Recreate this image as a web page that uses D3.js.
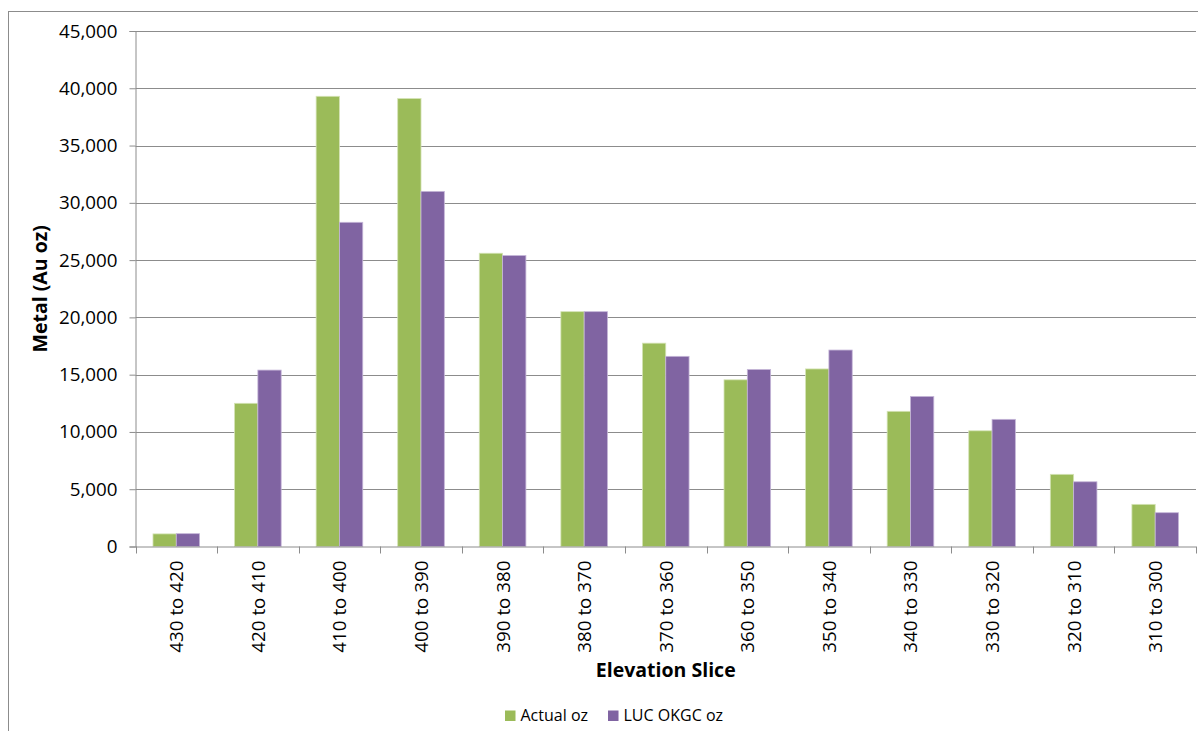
<!DOCTYPE html>
<html>
<head>
<meta charset="utf-8">
<script src="https://cdn.jsdelivr.net/npm/d3@7/dist/d3.min.js"></script>
<style>
  html, body { margin: 0; padding: 0; background: #fff; }
  svg { display: block; font-family: "Open Sans", "Noto Sans", sans-serif; }
</style>
</head>
<body>
<svg id="chart" width="1198" height="731"></svg>
<script>
// Elevation slices (top to bottom of the pit)
const categories = ["430 to 420", "420 to 410", "410 to 400", "400 to 390", "390 to 380",
  "380 to 370", "370 to 360", "360 to 350", "350 to 340", "340 to 330",
  "330 to 320", "320 to 310", "310 to 300"];
// Contained metal per slice, ounces
const actualOz = [1100, 12500, 39300, 39100, 25600, 20500, 17750, 14550, 15500, 11800, 10100, 6300, 3680];
const lucOkgcOz = [1120, 15400, 28300, 31000, 25400, 20500, 16600, 15450, 17150, 13100, 11100, 5650, 2950];
const seriesNames = ["Actual oz", "LUC OKGC oz"];
const seriesColors = ["#9BBB59", "#8064A2"];
const seriesStrokes = ["#d4e3b5", "#c5b6d8"];
const yTicks = [0, 5000, 10000, 15000, 20000, 25000, 30000, 35000, 40000, 45000];

const series = [actualOz, lucOkgcOz];
const svg = d3.select("#chart");
const margin = { left: 135.5, right: 1196, top: 31, bottom: 546.5 };

// Chart-area frame
svg.append("rect")
  .attr("x", 8.5).attr("y", 11.5)
  .attr("width", 1200).attr("height", 730)
  .attr("fill", "none").attr("stroke", "#8c8c8c").attr("stroke-width", 1);

const x = d3.scaleBand().domain(categories).range([margin.left, margin.right]).padding(0);
const xs = d3.scaleBand().domain(d3.range(series.length))
  .range([0, x.bandwidth()]).paddingInner(0).paddingOuter(0.75);
const y = d3.scaleLinear().domain([0, 45000]).range([margin.bottom, margin.top]);

// Horizontal gridlines
svg.append("g")
  .selectAll("line")
  .data(yTicks.filter(d => d > 0))
  .join("line")
  .attr("x1", margin.left).attr("x2", margin.right)
  .attr("y1", d => Math.round(y(d)) + 0.5).attr("y2", d => Math.round(y(d)) + 0.5)
  .attr("stroke", "#8c8c8c").attr("stroke-width", 1);

// Bars
const groups = svg.append("g")
  .selectAll("g")
  .data(categories)
  .join("g")
  .attr("transform", d => `translate(${x(d)},0)`);

groups.selectAll("rect")
  .data((c, i) => series.map((s, k) => ({ k, v: s[i] })))
  .join("rect")
  .attr("x", d => xs(d.k))
  .attr("width", xs.bandwidth())
  .attr("y", d => y(d.v))
  .attr("height", d => y(0) - y(d.v))
  .attr("fill", d => seriesColors[d.k])
  .attr("stroke", d => seriesStrokes[d.k])
  .attr("stroke-width", 0.8);

// Y axis
const yAxis = svg.append("g")
  .attr("transform", `translate(${margin.left},0)`)
  .call(d3.axisLeft(y).tickValues(yTicks).tickFormat(d3.format(",")).tickSize(6).tickPadding(12));
yAxis.select(".domain").attr("stroke", "#8c8c8c");
yAxis.selectAll(".tick line").attr("stroke", "#8c8c8c");
yAxis.selectAll(".tick text")
  .attr("font-size", 18.8).attr("fill", "#000")
  .attr("font-family", "'Open Sans', sans-serif");

// X axis: ticks at category boundaries
const xAxisG = svg.append("g").attr("transform", `translate(0,${margin.bottom})`);
xAxisG.append("line")
  .attr("x1", margin.left).attr("x2", margin.right)
  .attr("y1", 0.5).attr("y2", 0.5)
  .attr("stroke", "#8c8c8c");
const bounds = categories.map(c => x(c)).concat([margin.right]);
xAxisG.selectAll("line.tk")
  .data(bounds)
  .join("line")
  .attr("class", "tk")
  .attr("x1", d => Math.round(d) + 0.5).attr("x2", d => Math.round(d) + 0.5)
  .attr("y1", 0).attr("y2", 7)
  .attr("stroke", "#8c8c8c");
xAxisG.selectAll("text")
  .data(categories)
  .join("text")
  .attr("transform", d => `translate(${x(d) + x.bandwidth() / 2 + 7},14) rotate(-90)`)
  .attr("text-anchor", "end")
  .attr("font-size", 18.8)
  .attr("fill", "#000")
  .text(d => d);

// Axis titles
svg.append("text")
  .attr("x", (margin.left + margin.right) / 2)
  .attr("y", 677)
  .attr("text-anchor", "middle")
  .attr("font-size", 19.5).attr("font-weight", "bold")
  .text("Elevation Slice");

svg.append("text")
  .attr("transform", `translate(47,${(margin.top + margin.bottom) / 2}) rotate(-90)`)
  .attr("text-anchor", "middle")
  .attr("font-size", 19.5).attr("font-weight", "bold")
  .text("Metal (Au oz)");

// Legend
const legend = svg.append("g");
let lx = 505;
seriesNames.forEach((name, k) => {
  legend.append("rect")
    .attr("x", lx).attr("y", 710.5)
    .attr("width", 10.5).attr("height", 10.5)
    .attr("fill", seriesColors[k]);
  const t = legend.append("text")
    .attr("x", lx + 15.5).attr("y", 721)
    .attr("font-size", 16).attr("fill", "#000")
    .text(name);
  lx += 15.5 + t.node().getComputedTextLength() + 20;
});
</script>
</body>
</html>
